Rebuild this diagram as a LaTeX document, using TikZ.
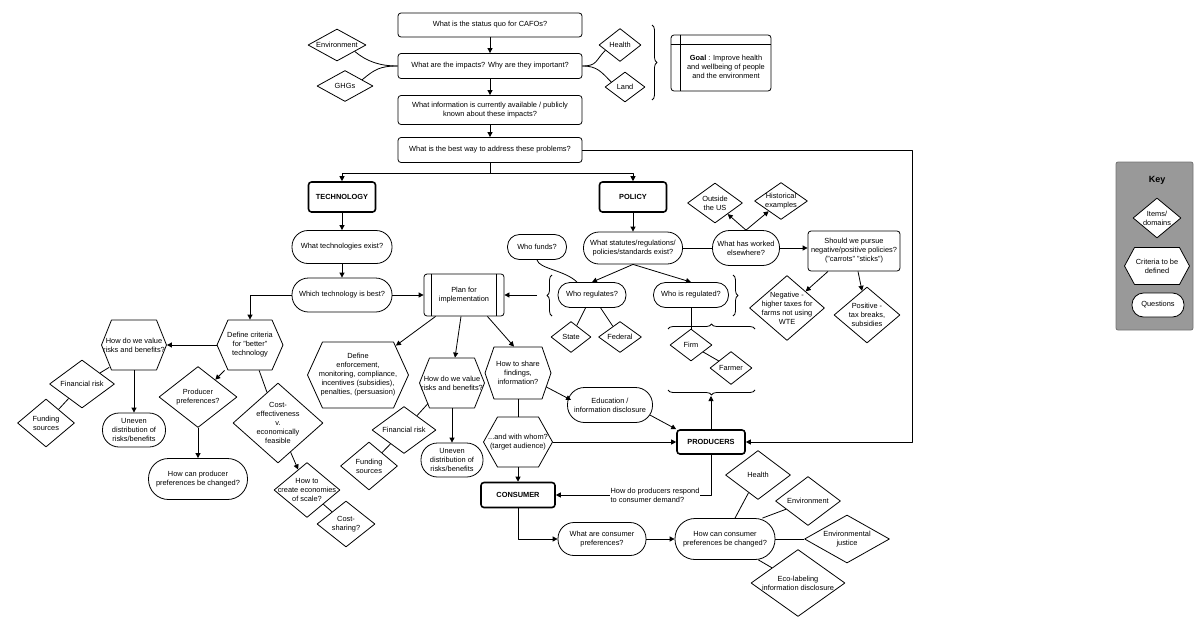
\documentclass[tikz,border=0pt]{standalone}
\usepackage{fontspec}
\setmainfont{Liberation Sans}
\usetikzlibrary{shapes.geometric,arrows.meta,decorations.pathreplacing}

\newcommand{\hexnode}[6][11]{%
	\draw[fill=white] (#3) ++({-#4/2},0) -- ++(#1,{-#5/2}) -- ++({#4-2*#1},0) -- ++(#1,{#5/2}) -- ++(-#1,{#5/2}) -- ++({2*#1-#4},0) -- cycle;
	\node[txt, minimum width=#4pt, minimum height=#5pt] (#2) at (#3) {#6};
}

\tikzset{
	txt/.style={font=\fontsize{7.4}{9}\selectfont, align=center, inner sep=1pt},
	box/.style 2 args={draw, fill=white, txt, rounded corners=3pt, minimum width=#1pt, minimum height=#2pt},
	hub/.style 2 args={box={#1}{#2}, line width=1.6pt, font=\fontsize{7.4}{9}\selectfont\bfseries},
	qs/.style 2 args={draw, fill=white, txt, minimum width=#1pt, minimum height=#2pt, rounded corners=#2*0.5pt-0.5pt},
	dom/.style n args={3}{draw, fill=white, diamond, inner sep=0pt, minimum width=#1pt, minimum height=#2pt, label={[txt]center:{#3}}},
	brc/.style={decorate, decoration={brace, amplitude=5pt}},
}

\begin{document}
\begin{tikzpicture}[x=1pt, y=-1pt, line width=0.8pt, line join=round, >={Triangle[length=5pt,width=5pt]}]
	\useasboundingbox (0,0) rectangle (1200,635);

	\node[box={184}{24}] (sq) at (490,25) {What is the status quo for CAFOs?};
	\node[box={184}{25}] (imp) at (490,66) {What are the impacts? Why are they important?};
	\node[box={184}{29}] (info) at (490,110) {What information is currently available / publicly\\known about these impacts?};
	\node[box={184}{25}] (best) at (490,150) {What is the best way to address these problems?};
	\node[dom={58}{32}{Environment}] (env) at (337,45) {};
	\node[dom={56}{31}{GHGs}] (ghg) at (345,86) {};
	\node[dom={42}{33}{Health}] (hlth) at (620,45) {};
	\node[dom={40}{30}{Land}] (land) at (625,87) {};
	\node[box={100}{56}, label={[txt, xshift=5pt, yshift=-4pt]center:{\textbf{Goal} : Improve health\\and wellbeing of people\\and the environment}}] (goal) at (721,63) {};
	\draw ([yshift=-10pt]goal.north west) -- ([yshift=-10pt]goal.north east);
	\draw ([xshift=10pt]goal.north west) -- ([xshift=10pt]goal.south west);
	\draw[brc] (652,25) -- (652,100);
	\draw[->] (sq) -- (imp);
	\draw[->] (imp) -- (info);
	\draw[->] (info) -- (best);
	\draw (env.-20) .. controls +(12,10) and +(-18,0) .. (imp.west);
	\draw (ghg.20) .. controls +(12,-10) and +(-18,0) .. (imp.west);
	\draw (hlth.200) .. controls +(-10,10) and +(15,0) .. (imp.east);
	\draw (land.160) .. controls +(-10,-10) and +(15,0) .. (imp.east);

	\node[hub={67}{30}] (tech) at (342,197) {TECHNOLOGY};
	\node[hub={67}{30}] (pol) at (633,197) {POLICY};
	\draw[->] (best.south) -- ++(0,10) -| (tech.north);
	\draw[->] (best.south) -- ++(0,10) -| (pol.north);

	\node[qs={100}{33}] (texist) at (342,247) {What technologies exist?};
	\node[qs={100}{34}] (tbest) at (342,295) {Which technology is best?};
	\node[box={80}{42}] (plan) at (464,295) {Plan for\\implementation};
	\draw ([xshift=8pt]plan.north west) -- ([xshift=8pt]plan.south west);
	\draw ([xshift=-8pt]plan.north east) -- ([xshift=-8pt]plan.south east);
	\hexnode{crit}{250,345}{66}{50}{Define criteria\\for "better"\\technology}
	\hexnode[10]{val1}{134,345}{65}{50}{How do we value\\risks and benefits?}
	\node[dom={65}{48}{Financial risk}] (fin1) at (82,384) {};
	\node[dom={57}{48}{Funding\\sources}] (fund1) at (46,423) {};
	\node[qs={63}{34}] (unev1) at (134,430) {Uneven\\distribution of\\risks/benefits};
	\node[dom={78}{61}{Producer\\preferences?}] (prefq) at (198,397) {};
	\node[qs={99}{41}] (prefchg) at (198,479) {How can producer\\preferences be changed?};
	\node[dom={90}{80}{Cost-\\effectiveness\\v.\\economically\\feasible}] (cost) at (278,423) {};
	\node[dom={66}{55}{How to\\create economies\\of scale?}] (econ) at (307,490) {};
	\node[dom={58}{46}{Cost-\\sharing?}] (csh) at (346,524) {};
	\draw[->] (tech) -- (texist);
	\draw[->] (texist) -- (tbest);
	\draw[->] (tbest) -- (plan);
	\draw[->] (tbest.west) -| (crit.north);
	\draw[->] (crit) -- (val1);
	\draw ([xshift=8pt,yshift=3pt]val1.south west) -- (fin1);
	\draw (fin1) -- (fund1);
	\draw[->] (val1) -- (unev1);
	\draw[->] (crit) -- (prefq);
	\draw (crit) -- (cost);
	\draw[->] (prefq) -- (prefchg);
	\draw[->] (cost) -- (econ);
	\draw (econ) -- (csh);

	\hexnode[15]{enf}{358,375}{101}{66}{Define\\enforcement,\\monitoring, compliance,\\incentives (subsidies),\\penalties, (persuasion)}
	\hexnode[10]{val2}{452,383}{65}{50}{How do we value\\risks and benefits?}
	\node[dom={64}{47}{Financial risk}] (fin2) at (404,430) {};
	\node[dom={57}{48}{Funding\\sources}] (fund2) at (369,466) {};
	\node[qs={62}{34}] (unev2) at (452,460) {Uneven\\distribution of\\risks/benefits};
	\hexnode[9]{sharef}{518,373}{66}{52}{How to share\\findings,\\information?}
	\hexnode[14]{whom}{518,442}{69}{50}{...and with whom?\\(target audience)}
	\node[qs={85}{35}] (edu) at (610,405) {Education /\\information disclosure};
	\node[hub={68}{24}] (prod) at (711,442) {PRODUCERS};
	\node[hub={74}{25}] (cons) at (518,495) {CONSUMER};
	\draw[->] ([xshift=12pt]plan.south west) -- ([xshift=-13pt,yshift=-4pt]enf.north east);
	\draw[->] ([xshift=-3pt]plan.south) -- ([xshift=3pt]val2.north);
	\draw[->] ([xshift=-17pt]plan.south east) -- ([xshift=-4pt]sharef.north);
	\draw ([xshift=9pt,yshift=5pt]val2.south west) -- (fin2);
	\draw (fin2) -- (fund2);
	\draw[->] (val2) -- (unev2);
	\draw (sharef) -- (whom);
	\draw[->] ([xshift=-5pt,yshift=-14pt]sharef.east) -- ([xshift=4pt,yshift=5pt]edu.west);
	\draw[->] ([xshift=-3pt,yshift=-10pt]edu.east) -- (prod.north west);
	\draw[->] (whom) -- (prod);
	\draw[->] (whom) -- (cons);
	\draw[->] (prod.south) |- (cons.east);
	\node[txt, align=left, fill=white] (resp) at (655,495) {How do producers respond\\to consumer demand?};
	\coordinate (rgt) at (912,442);
	\draw[->] (best.east) -| (rgt) -- (prod.east);

	\node[qs={99}{32}] (stat) at (633,248) {What statutes/regulations/\\policies/standards exist?};
	\node[qs={59}{25}] (funds) at (537,247) {Who funds?};
	\node[qs={68}{25}] (reg) at (592,295) {Who regulates?};
	\node[qs={75}{25}] (isreg) at (691,295) {Who is regulated?};
	\node[dom={40}{31}{State}] (state) at (571,337) {};
	\node[dom={43}{31}{Federal}] (fed) at (620,337) {};
	\node[qs={67}{35}] (worked) at (746,248) {What has worked\\elsewhere?};
	\node[dom={55}{40}{Outside\\the US}] (outus) at (715,203) {};
	\node[dom={53}{37}{Historical\\examples}] (hist) at (781,201) {};
	\node[box={92}{40}] (pursue) at (854,251) {Should we pursue\\negative/positive policies?\\("carrots" "sticks")};
	\node[dom={75}{65}{Negative -\\higher taxes for\\farms  not using\\WTE}] (neg) at (787,308) {};
	\node[dom={66}{56}{Positive -\\tax breaks,\\subsidies}] (pos) at (867,315) {};
	\node[dom={42}{32}{Firm}] (firm) at (691,345) {};
	\node[dom={42}{33}{Farmer}] (farmer) at (731,368) {};
	\draw[->] (pol) -- (stat);
	\draw[->] (stat.south) -- (reg.north);
	\draw[->] (stat.south) -- (isreg.north);
	\draw (funds.south) .. controls +(2,9) and +(-12,-12) .. ([xshift=-15pt]reg.north);
	\draw (reg) -- (state);
	\draw (reg) -- (fed);
	\draw (stat) -- (worked);
	\draw[->] (worked.north) -- (outus);
	\draw[->] (worked.north) -- (hist);
	\draw[->] (worked.east) -- (worked.east -| pursue.west);
	\draw[->] ([xshift=-26pt]pursue.south) -- (neg);
	\draw[->] ([xshift=4pt]pursue.south) -- (pos);
	\draw (isreg) -- (firm);
	\draw (firm) -- (farmer);
	\draw[brc] (552,316) -- (552,275);
	\draw[brc] (733,275) -- (733,316);
	\draw[brc] (668,329) -- (755,329);
	\draw[brc] (755,390) -- (668,390);
	\coordinate (ltip) at (537,295);
	\draw[->] (ltip) -- (plan);
	\coordinate (btip) at (711,396);
	\draw[->] (prod) -- (btip);

	\node[qs={88}{33}] (cpref) at (602,539) {What are consumer\\preferences?};
	\node[qs={100}{41}] (cchg) at (725,539) {How can consumer\\preferences be changed?};
	\node[dom={65}{49}{Health}] (hlth2) at (758,475) {};
	\node[dom={65}{49}{Environment}] (env2) at (808,501) {};
	\node[dom={85}{48}{Environmental\\justice}] (ej) at (847,539) {};
	\node[dom={94}{67}{Eco-labeling\\information disclosure}] (eco) at (798,583) {};
	\draw[->] (cons.south) |- (cpref.west);
	\draw[->] (cpref) -- (cchg);
	\draw ([xshift=10pt]cchg.north) -- (hlth2);
	\draw ([xshift=-13pt]cchg.north east) -- (env2);
	\draw (cchg) -- (ej);
	\draw ([xshift=-17pt]cchg.south east) -- (eco);

	\node[draw=gray!90!black, fill=gray!80, rounded corners=2pt, minimum width=77pt, minimum height=168pt] (keybox) at (1154.5,246) {};
	\node[txt, font=\fontsize{9}{10}\selectfont\bfseries] (keyt) at (1157,180) {Key};
	\node[dom={48}{40}{Items/\\domains}] (kdom) at (1157,218) {};
	\hexnode[10]{kcrit}{1157,266}{65}{37}{Criteria to be\\defined}
	\node[qs={52}{24}] (kq) at (1158,305) {Questions};
\end{tikzpicture}
\end{document}
